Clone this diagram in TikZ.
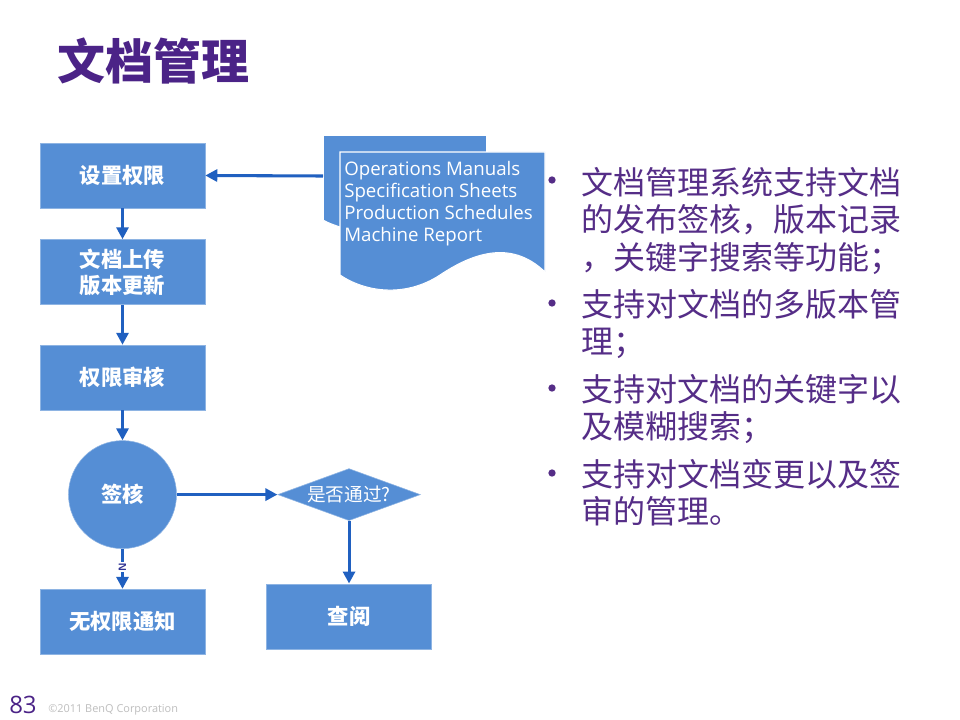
\documentclass[tikz,border=0pt]{standalone}
\usepackage{fontspec}
\setmainfont{Open Sans}
\newfontfamily\cjk{Noto Sans CJK SC}
\usetikzlibrary{positioning, arrows.meta, shapes.geometric}

\definecolor{boxblue}{RGB}{85,142,213}
\definecolor{boxedge}{RGB}{142,180,227}
\definecolor{arrowblue}{RGB}{32,96,192}
\definecolor{titlepurple}{RGB}{75,35,135}
\definecolor{textpurple}{RGB}{85,45,135}
\definecolor{navy}{RGB}{46,49,146}
\definecolor{footgray}{RGB}{190,190,190}

\begin{document}
\begin{tikzpicture}[
        x=0.75pt, y=-0.75pt,
        procbox/.style={
            rectangle,
            fill=boxblue,
            draw=boxedge,
            minimum width=123.75pt,
            minimum height=48.75pt,
            inner sep=0pt,
            align=center,
            text=white,
            font=\cjk\bfseries\fontsize{16}{19.5}\selectfont
        },
        signcircle/.style={
            circle,
            fill=boxblue,
            draw=boxedge,
            minimum size=81pt,
            inner sep=0pt,
            text=white,
            font=\cjk\bfseries\fontsize{16}{19.5}\selectfont
        },
        decision/.style={
            diamond,
            fill=boxblue,
            draw=boxedge,
            shape aspect=2.75,
            minimum width=107pt,
            minimum height=39pt,
            inner sep=0pt,
            text=white,
            font=\cjk\fontsize{14}{16}\selectfont
        },
        docshape/.style={
            fill=boxblue,
            draw=white,
            line width=0.8pt
        },
        doctext/.style={
            align=left,
            inner sep=0pt,
            text=white,
            font=\fontsize{14}{16.5}\selectfont
        },
        bullettext/.style={
            align=left,
            inner sep=0pt,
            text=textpurple,
            font=\cjk\fontsize{24}{28}\selectfont
        },
        bulletdot/.style={
            circle,
            fill=textpurple,
            minimum size=5.5pt,
            inner sep=0pt
        },
        arrow/.style={
            ->,
            >={Triangle[length=9pt,width=9pt]},
            line width=2.3pt,
            draw=arrowblue
        }
    ]

    % Fond et cadre
    \fill[white] (0,0) rectangle (960,720);
    \useasboundingbox (0,0) rectangle (960,720);

    % Titre
    \node[anchor=west, inner sep=0pt, text=titlepurple,
          font=\cjk\bfseries\fontsize{36}{40}\selectfont] (title) at (57,61) {文档管理};

    % Documents
    \fill[docshape] (323,135) -- (487,135) -- (487,240) -- (340,240) -- (340,227)
        .. controls (334,225) and (328,223) .. (323,220) -- cycle;
    \fill[docshape] (340,152) -- (545,152) -- (545,272)
        .. controls (510,238) and (470,255) .. (440,275)
        .. controls (405,298) and (365,292) .. (340,275) -- cycle;
    \draw[white, line width=0.8pt] (323,220) -- (323,135) -- (487,135) -- (487,152);
    \node[doctext, anchor=north west] (doclist) at (344,161)
        {Operations Manuals\\Specification Sheets\\Production Schedules\\Machine Report};
    \coordinate (docin) at (323,176);

    % Noeuds du flux
    \node[procbox] (setperm) at (122.5,175.5) {设置权限};
    \node[procbox, below=23.25pt of setperm] (upload) {文档上传\\版本更新};
    \node[procbox, below=30pt of upload] (review) {权限审核};
    \node[signcircle, below=22.5pt of review] (sign) {签核};
    \node[procbox, below=30pt of sign] (noperm) {无权限通知};
    \node[decision, right=75.5pt of sign] (check) {是否通过?};
    \node[procbox, below=47pt of check] (view) {查阅};

    % Flèches
    \draw[arrow] (docin) -- (setperm.east);
    \draw[arrow] (setperm) -- (upload);
    \draw[arrow] (upload) -- (review);
    \draw[arrow] (review) -- (sign);
    \draw[arrow] (sign) -- node[pos=0.45, fill=white, inner sep=0.6pt, rotate=90, text=navy,
        font=\sffamily\bfseries\fontsize{8}{8}\selectfont] (nolabel) {N} (noperm);
    \draw[arrow] (sign) -- (check);
    \draw[arrow] (check) -- (view);

    % Liste à puces
    \node[bulletdot] (dot1) at (552,180) {};
    \node[bulletdot] (dot2) at (552,303) {};
    \node[bulletdot] (dot3) at (552,388) {};
    \node[bulletdot] (dot4) at (552,473) {};
    \node[bullettext, anchor=north west] (item1) at (581,167)
        {文档管理系统支持文档\\的发布签核，版本记录\\，关键字搜索等功能；};
    \node[bullettext, anchor=north west] (item2) at (581,289)
        {支持对文档的多版本管\\理；};
    \node[bullettext, anchor=north west] (item3) at (581,374)
        {支持对文档的关键字以\\及模糊搜索；};
    \node[bullettext, anchor=north west] (item4) at (581,459)
        {支持对文档变更以及签\\审的管理。};

    % Pied de page
    \node[anchor=base west, inner sep=0pt, text=titlepurple,
          font=\fontsize{18}{20}\selectfont] (pagenum) at (9,713) {83};
    \node[anchor=base west, inner sep=0pt, text=footgray,
          font=\fontsize{8.2}{10}\selectfont] (copyright) at (48,712) {©2011 BenQ Corporation};

    \end{tikzpicture}
\end{document}
